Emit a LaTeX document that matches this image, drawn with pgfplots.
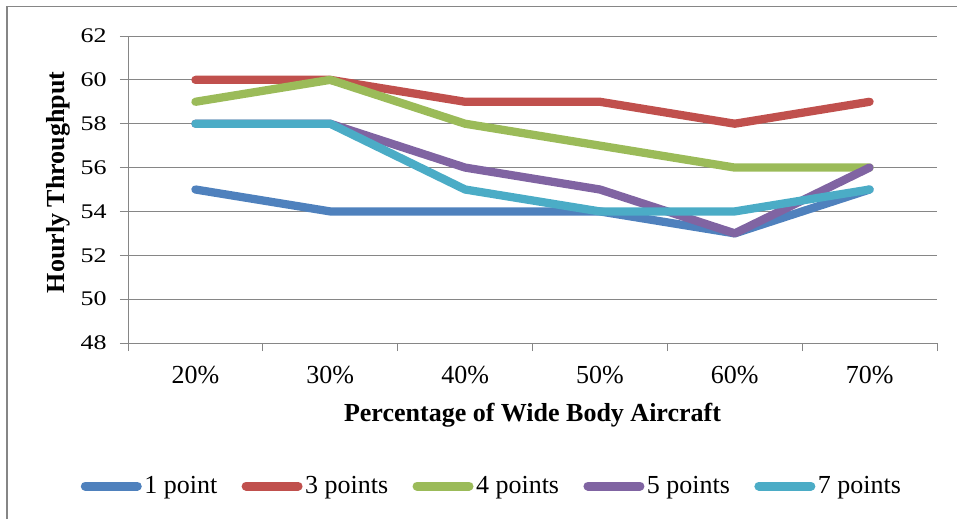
\documentclass[border=0pt]{standalone}
\usepackage{fontspec}
\setmainfont{Liberation Serif}
\usepackage{graphicx}
\usepackage{pgfplots}
\pgfplotsset{compat=1.18}
\definecolor{c1}{HTML}{4F81BD}
\definecolor{c3}{HTML}{C0504D}
\definecolor{c4}{HTML}{9BBB59}
\definecolor{c5}{HTML}{8064A2}
\definecolor{c7}{HTML}{4BACC6}
\definecolor{gridgray}{HTML}{868686}
\newcommand{\fs}{\fontsize{19.5}{23}\selectfont}
\newcommand{\sq}[1]{\scalebox{1}[0.8]{#1}}
\begin{document}
\begin{tikzpicture}
\begin{axis}[
  at={(96pt,132pt)}, anchor=south west,
  scale only axis, width=606.75pt, height=230.25pt,
  xmin=-0.5, xmax=5.5, ymin=48, ymax=62,
  xtick={-0.5,0.5,1.5,2.5,3.5,4.5,5.5},
  x tick label as interval,
  xticklabels={20\%,30\%,40\%,50\%,60\%,70\%},
  ytick={48,50,52,54,56,58,60,62},
  yticklabels={\sq{48},\sq{50},\sq{52},\sq{54},\sq{56},\sq{58},\sq{60},\sq{62}},
  axis x line*=bottom, axis y line*=left,
  axis line style={-, draw=gridgray, line width=0.75pt},
  ymajorgrids, grid style={draw=gridgray, line width=0.75pt},
  tick align=outside, major tick length=6pt,
  tick style={draw=gridgray, line width=0.75pt},
  tick label style={font=\fs},
  xticklabel style={anchor=base, inner sep=0pt, yshift=-24pt},
  yticklabel style={anchor=east, inner sep=0pt, xshift=-9.75pt},
  /pgf/number format/assume math mode=true,
  xlabel={Percentage of Wide Body Aircraft},
  ylabel={Hourly Throughput},
  label style={font=\fs\bfseries},
  xlabel style={at={(axis description cs:0.5,-0.2541)}, anchor=base, inner sep=0pt},
  ylabel style={at={(axis description cs:-0.0791,0.5228)}, anchor=base, inner sep=0pt},
  legend columns=5,
  legend cell align=left,
  legend image code/.code={\draw[#1, line width=6.75pt, line cap=round] (0pt,0pt) -- (39pt,0pt);},
  legend style={at={(axis description cs:-0.0587,-0.4658)}, anchor=west, draw=none, fill=none,
    inner sep=0pt, font=\fs, nodes={inner sep=0pt},
    /tikz/every odd column/.append style={column sep=1.9pt},
    /tikz/every even column/.append style={column sep=18.25pt}},
  every axis plot/.append style={line width=6.2pt, line cap=round, line join=round},
]
\addplot[c1] coordinates {(0,55) (1,54) (2,54) (3,54) (4,53) (5,55)};
\addlegendentry{1 point}
\addplot[c3] coordinates {(0,60) (1,60) (2,59) (3,59) (4,58) (5,59)};
\addlegendentry{3 points}
\addplot[c4] coordinates {(0,59) (1,60) (2,58) (3,57) (4,56) (5,56)};
\addlegendentry{4 points}
\addplot[c5] coordinates {(0,58) (1,58) (2,56) (3,55) (4,53) (5,56)};
\addlegendentry{5 points}
\addplot[c7] coordinates {(0,58) (1,58) (2,55) (3,54) (4,54) (5,55)};
\addlegendentry{7 points}
\end{axis}
\draw[gridgray, line width=1.1pt] (5.25pt,0pt) -- (5.25pt,384.4pt) -- (717.75pt,384.4pt);
\pgfresetboundingbox
\path[use as bounding box] (0pt,0pt) rectangle (717.75pt,389.25pt);
\end{tikzpicture}
\end{document}
